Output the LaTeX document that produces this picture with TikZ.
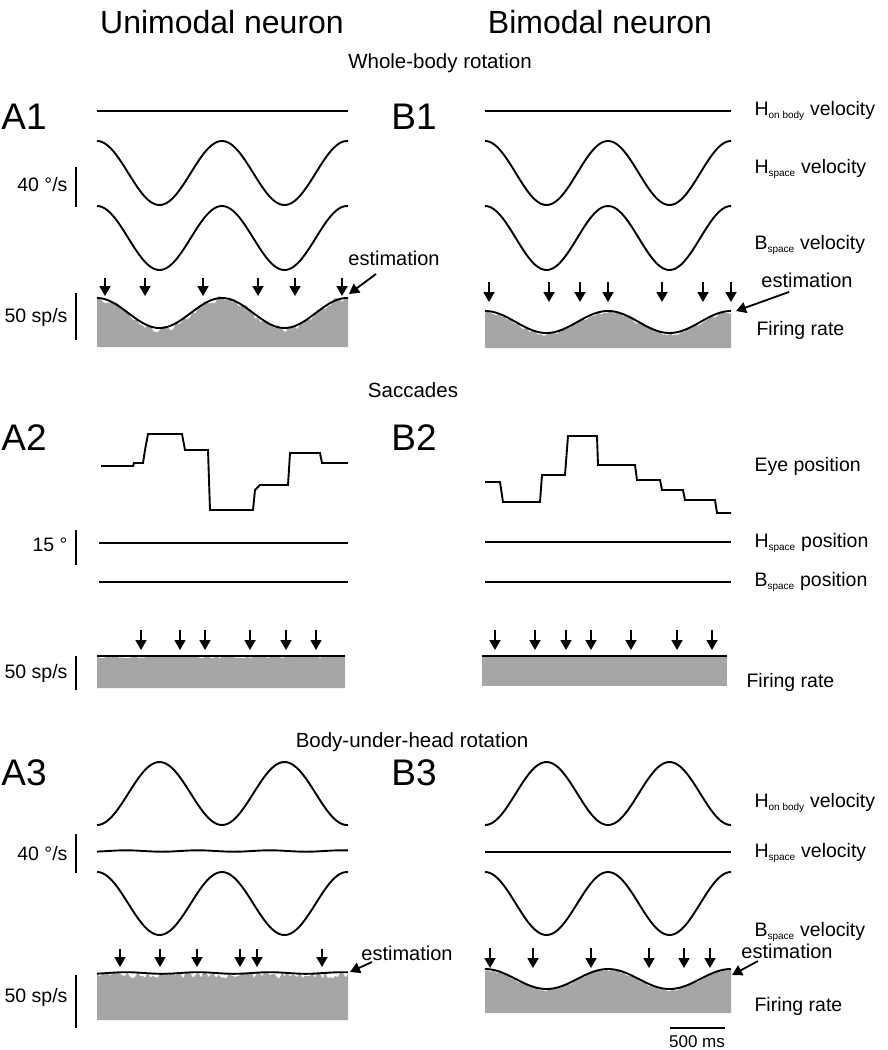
\documentclass[tikz,border=0pt]{standalone}
\usepackage{fontspec}
\setmainfont{Liberation Sans}
\usetikzlibrary{arrows.meta}
\newcommand\lsub[1]{\textsubscript{\fontsize{10}{11}\selectfont #1}}
\begin{document}
\begin{tikzpicture}[x=1pt,y=-1pt,
  trace/.style={line width=1.9pt,black},
  fillg/.style={fill=black!35,draw=none},
  arr/.style={line width=1.8pt,-{Triangle[length=10pt,width=11pt]}},
  bar/.style={line width=1.6pt},
  title/.style={font=\fontsize{32}{34}\selectfont},
  sect/.style={font=\fontsize{20.5}{22}\selectfont},
  panel/.style={font=\fontsize{37}{38}\selectfont},
  lab/.style={font=\fontsize{19.5}{22}\selectfont,anchor=west},
  est/.style={font=\fontsize{20}{22}\selectfont},
  scl/.style={font=\fontsize{19.5}{21}\selectfont,anchor=east}]
\useasboundingbox[fill=white] (0,0) rectangle (888,1050);
\pgfmathsetseed{7}
% titles
\node[title] (t1) at (222,22) {Unimodal neuron};
\node[title] (t2) at (600,22) {Bimodal neuron};
\node[sect] (s1) at (440,63) {Whole-body rotation};
\node[sect] (s2) at (413,390) {Saccades};
\node[sect] (s3) at (412,742) {Body-under-head rotation};
\node[panel] (pa1) at (24,117) {A1};
\node[panel] (pb1) at (414,117) {B1};
\node[panel] (pa2) at (24,438) {A2};
\node[panel] (pb2) at (414,438) {B2};
\node[panel] (pa3) at (24,773) {A3};
\node[panel] (pb3) at (414,773) {B3};
% right labels
\node[lab] (l1) at (751,111) {H\lsub{on body} velocity};
\node[lab] (l2) at (751,169) {H\lsub{space} velocity};
\node[lab] (l3) at (751,245) {B\lsub{space} velocity};
\node[lab] (l4) at (753,330) {Firing rate};
\node[lab] (l5) at (751,466) {Eye position};
\node[lab] (l6) at (751,543) {H\lsub{space} position};
\node[lab] (l7) at (751,582) {B\lsub{space} position};
\node[lab] (l8) at (743,682) {Firing rate};
\node[lab] (l9) at (751,803) {H\lsub{on body} velocity};
\node[lab] (l10) at (751,853) {H\lsub{space} velocity};
\node[lab] (l11) at (751,932) {B\lsub{space} velocity};
\node[lab] (l12) at (751,1006) {Firing rate};
% scale bars
\draw[bar] (76,167) -- (76,207); \node[scl] (c1) at (71,185) {40 °/s};
\draw[bar] (76,293) -- (76,340); \node[scl] (c2) at (71,317) {50 sp/s};
\draw[bar] (76,530) -- (76,565); \node[scl] (c3) at (71,545) {15 °};
\draw[bar] (76,656) -- (76,690); \node[scl] (c4) at (71,673) {50 sp/s};
\draw[bar] (76,834) -- (76,873); \node[scl] (c5) at (71,854) {40 °/s};
\draw[bar] (76,975) -- (76,1028); \node[scl] (c6) at (71,997) {50 sp/s};
\draw[bar] (670,1028) -- (725,1028); \node[est,font=\fontsize{17}{19}\selectfont] (c7) at (697,1042) {500 ms};
% ---------- A1
\draw[trace] (97,111) -- (348,111);
\draw[trace] plot[domain=97:348,samples=120] (\x,{173-32*cos((\x-97)*2.88)});
\draw[trace] plot[domain=97:348,samples=120] (\x,{238-32*cos((\x-97)*2.88)});
\fill[fillg] (97,347) -- plot[domain=97:348,samples=90] (\x,{314-15.5*cos((\x-97)*2.88)+7*(rnd-0.5)}) -- (348,347) -- cycle;
\draw[trace] plot[domain=97:348,samples=120] (\x,{313-15*cos((\x-97)*2.88)});
\foreach \a in {105,145,203,258,295,342} \draw[arr] (\a,278) -- (\a,296);
\node[est] (e1) at (394,258) {estimation};
\coordinate (e1s) at (376,274); \coordinate (e1t) at (349,294);
\draw[arr] (e1s) -- (e1t);
% ---------- B1
\draw[trace] (485,111) -- (731,111);
\draw[trace] plot[domain=485:731,samples=120] (\x,{173-32*cos((\x-485)*2.9268)});
\draw[trace] plot[domain=485:731,samples=120] (\x,{238-32*cos((\x-485)*2.9268)});
\fill[fillg] (485,348) -- plot[domain=485:731,samples=90] (\x,{323-11*cos((\x-485)*2.9268)+4*(rnd-0.5)}) -- (731,348) -- cycle;
\draw[trace] plot[domain=485:731,samples=120] (\x,{322-11*cos((\x-485)*2.9268)});
\foreach \a in {489,549,580,608,662,703,731} \draw[arr] (\a,282) -- (\a,302);
\node[est] (e2) at (807,280) {estimation};
\coordinate (e2s) at (789,292); \coordinate (e2t) at (736,311);
\draw[arr] (e2s) -- (e2t);
% ---------- A2
\draw[trace] (101,466) -- (133,466) -- (134,463) -- (143,463) -- (145,450) -- (148,434) -- (182,434) -- (185,450) -- (208,450) -- (210,510) -- (253,510) -- (255,490) -- (260,485) -- (288,485) -- (290,453) -- (320,453) -- (322,463) -- (348,463);
\draw[trace] (99,543) -- (348,543);
\draw[trace] (99,582) -- (348,582);
\fill[fillg] (97,688) -- plot[domain=97:345,samples=90] (\x,{657+3*(rnd-0.5)}) -- (345,688) -- cycle;
\draw[trace] (97,656) -- (345,656);
\foreach \a in {141,180,205,250,286,316} \draw[arr] (\a,630) -- (\a,650);
% ---------- B2
\draw[trace] (485,482) -- (500,482) -- (503,502) -- (540,502) -- (542,475) -- (565,475) -- (568,436) -- (597,436) -- (598,465) -- (635,465) -- (637,480) -- (660,480) -- (662,490) -- (683,490) -- (685,500) -- (715,500) -- (717,513) -- (731,513);
\draw[trace] (485,542) -- (731,542);
\draw[trace] (485,582) -- (731,582);
\fill[fillg] (482,686) -- (482,656) -- (727,656) -- (727,686) -- cycle;
\draw[trace] (482,656) -- (727,656);
\foreach \a in {495,535,566,591,631,677,712} \draw[arr] (\a,630) -- (\a,650);
% ---------- A3
\draw[trace] plot[domain=97:348,samples=120] (\x,{793.5+31.5*cos((\x-97)*2.88)});
\draw[trace] plot[domain=97:348,samples=60] (\x,{851+0.7*sin(\x*5)});
\draw[trace] plot[domain=97:348,samples=120] (\x,{903.5-31.5*cos((\x-97)*2.88)});
\fill[fillg] (97,1020) -- plot[domain=97:348,samples=100] (\x,{975+7*(rnd-0.5)}) -- (348,1020) -- cycle;
\draw[trace] plot[domain=97:348,samples=60] (\x,{973+0.8*sin(\x*5)});
\foreach \a in {120,160,197,240,257,322} \draw[arr] (\a,949) -- (\a,967);
\node[est] (e3) at (407,953) {estimation};
\coordinate (e3s) at (372,962); \coordinate (e3t) at (350,972);
\draw[arr] (e3s) -- (e3t);
% ---------- B3
\draw[trace] plot[domain=485:731,samples=120] (\x,{793.5+31.5*cos((\x-485)*2.9268)});
\draw[trace] (485,852) -- (731,852);
\draw[trace] plot[domain=485:731,samples=120] (\x,{903.5-31.5*cos((\x-485)*2.9268)});
\fill[fillg] (485,1013) -- plot[domain=485:731,samples=90] (\x,{980-10*cos((\x-485)*2.9268)+3*(rnd-0.5)}) -- (731,1013) -- cycle;
\draw[trace] plot[domain=485:731,samples=120] (\x,{979-10*cos((\x-485)*2.9268)});
\foreach \a in {490,533,591,649,684,710} \draw[arr] (\a,948) -- (\a,968);
\node[est] (e4) at (787,951) {estimation};
\coordinate (e4s) at (758,961); \coordinate (e4t) at (732,975);
\draw[arr] (e4s) -- (e4t);
\end{tikzpicture}
\end{document}
